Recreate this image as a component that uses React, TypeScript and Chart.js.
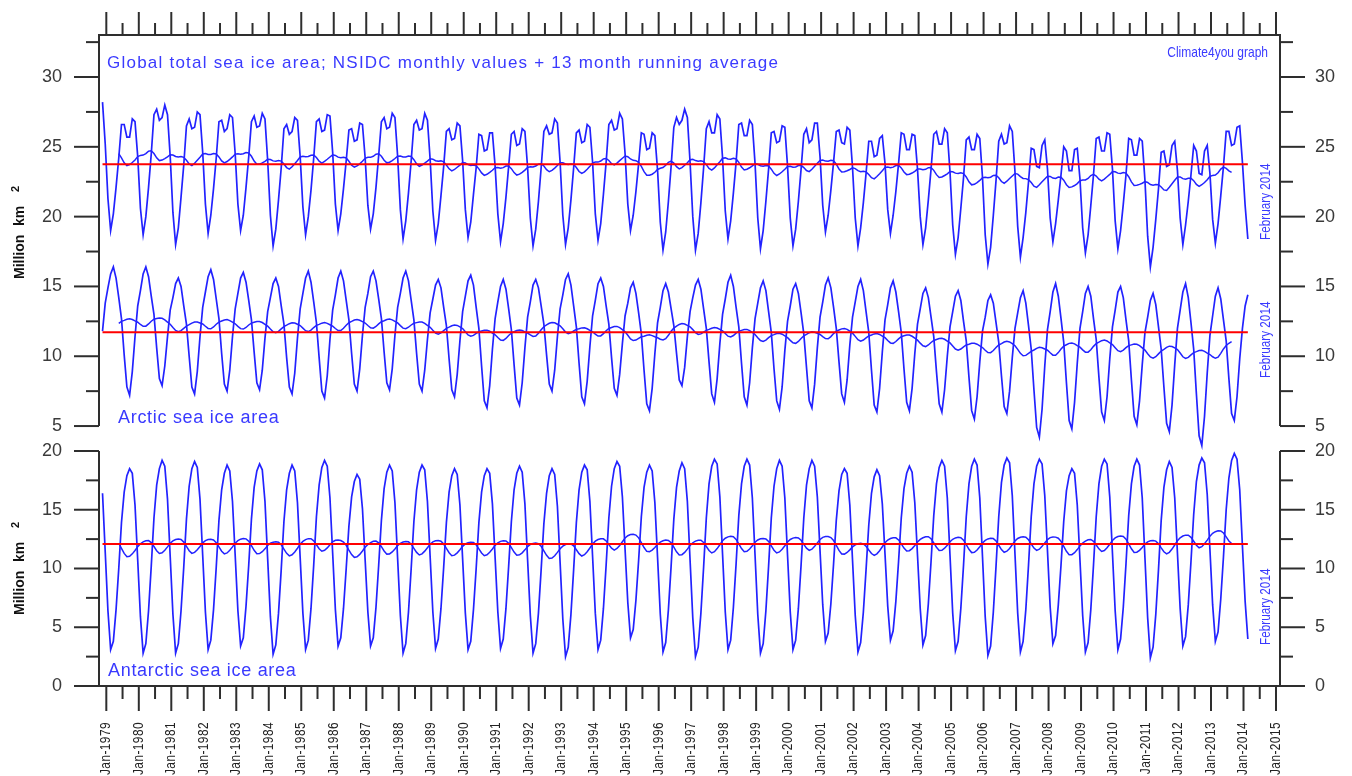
import { useEffect, useRef } from 'react'
import Chart from 'chart.js/auto'

// Monthly series start in November 1978 and end in February 2014
const startYear = 1978
const startMonth = 10 // 0 = January

// Arctic sea ice area, million km2 (one row per year)
const arcticMonthly: number[] = [
  11.8, 13.8,
  14.9, 15.9, 16.4, 15.6, 14.2, 12.7, 10.1, 7.8, 7.2, 8.9, 11.4, 13.6,
  14.7, 15.9, 16.4, 15.7, 14.3, 13.0, 10.6, 8.4, 7.9, 9.3, 11.4, 13.3,
  14.2, 15.2, 15.6, 15.0, 13.6, 12.3, 10.0, 7.8, 7.3, 8.9, 11.4, 13.5,
  14.6, 15.7, 16.2, 15.5, 14.1, 12.7, 10.2, 8.0, 7.5, 9.0, 11.4, 13.4,
  14.5, 15.6, 16.0, 15.3, 14.0, 12.6, 10.3, 8.1, 7.6, 9.0, 11.3, 13.2,
  14.2, 15.2, 15.6, 15.0, 13.6, 12.3, 9.9, 7.8, 7.3, 8.8, 11.3, 13.4,
  14.5, 15.6, 16.1, 15.3, 13.9, 12.4, 9.9, 7.5, 7.0, 8.6, 11.2, 13.3,
  14.4, 15.6, 16.1, 15.4, 14.0, 12.6, 10.2, 8.0, 7.5, 9.1, 11.5, 13.5,
  14.5, 15.7, 16.1, 15.4, 14.1, 12.7, 10.3, 8.1, 7.6, 9.1, 11.5, 13.5,
  14.5, 15.6, 16.1, 15.4, 14.0, 12.6, 10.2, 8.0, 7.5, 9.0, 11.2, 13.1,
  14.1, 15.1, 15.5, 14.9, 13.5, 12.2, 9.8, 7.6, 7.1, 8.7, 11.1, 13.2,
  14.3, 15.4, 15.8, 15.1, 13.5, 12.0, 9.3, 6.8, 6.3, 7.9, 10.5, 12.7,
  13.9, 15.0, 15.5, 14.8, 13.4, 11.9, 9.4, 7.0, 6.5, 8.1, 10.6, 12.8,
  13.9, 15.1, 15.5, 14.9, 13.6, 12.3, 10.1, 8.0, 7.5, 9.0, 11.4, 13.4,
  14.4, 15.5, 15.9, 15.1, 13.6, 12.1, 9.5, 7.1, 6.6, 8.2, 10.7, 12.9,
  14.0, 15.2, 15.6, 15.0, 13.6, 12.3, 9.9, 7.7, 7.2, 8.7, 10.9, 12.9,
  13.8, 14.9, 15.3, 14.5, 13.1, 11.6, 9.0, 6.6, 6.1, 7.7, 10.2, 12.4,
  13.5, 14.7, 15.2, 14.6, 13.4, 12.2, 10.2, 8.3, 7.9, 9.2, 11.4, 13.2,
  14.2, 15.1, 15.5, 14.8, 13.4, 12.0, 9.6, 7.3, 6.7, 8.4, 10.9, 13.0,
  14.1, 15.3, 15.8, 15.0, 13.5, 12.1, 9.5, 7.1, 6.5, 8.1, 10.6, 12.7,
  13.8, 14.9, 15.4, 14.7, 13.2, 11.7, 9.1, 6.8, 6.2, 7.8, 10.4, 12.5,
  13.6, 14.8, 15.2, 14.5, 13.1, 11.6, 9.2, 6.8, 6.3, 8.0, 10.6, 12.8,
  13.9, 15.1, 15.6, 14.9, 13.5, 12.0, 9.6, 7.3, 6.7, 8.3, 10.8, 12.8,
  13.9, 15.0, 15.5, 14.7, 13.2, 11.7, 9.0, 6.5, 6.0, 7.7, 10.3, 12.6,
  13.7, 14.9, 15.4, 14.6, 13.2, 11.7, 9.1, 6.7, 6.1, 7.7, 10.2, 12.3,
  13.4, 14.5, 14.9, 14.2, 12.8, 11.4, 8.9, 6.6, 6.0, 7.6, 10.0, 12.1,
  13.2, 14.3, 14.7, 14.0, 12.5, 11.1, 8.5, 6.1, 5.5, 7.1, 9.6, 11.8,
  12.8, 14.0, 14.4, 13.8, 12.4, 11.0, 8.6, 6.4, 5.9, 7.5, 9.9, 12.0,
  13.1, 14.2, 14.7, 13.8, 12.2, 10.5, 7.6, 4.9, 4.2, 6.2, 9.3, 11.9,
  13.2, 14.6, 15.2, 14.3, 12.7, 11.0, 8.1, 5.4, 4.8, 6.7, 9.5, 12.0,
  13.2, 14.5, 15.0, 14.3, 12.7, 11.2, 8.5, 6.0, 5.4, 7.1, 9.8, 12.1,
  13.3, 14.6, 15.0, 14.2, 12.6, 11.1, 8.3, 5.7, 5.1, 6.8, 9.4, 11.7,
  12.8, 14.0, 14.5, 13.7, 12.1, 10.5, 7.8, 5.2, 4.6, 6.5, 9.4, 12.0,
  13.3, 14.6, 15.2, 14.2, 12.4, 10.5, 7.3, 4.3, 3.6, 5.7, 8.8, 11.5,
  12.9, 14.3, 14.9, 14.1, 12.6, 11.1, 8.4, 5.9, 5.4, 7.1, 9.8, 12.0,
  13.6, 14.4,
]

// Antarctic sea ice area, million km2 (one row per year)
const antarcticMonthly: number[] = [
  16.4, 11.4,
  6.4, 3.1, 3.8, 6.5, 10.0, 13.9, 16.5, 17.9, 18.5, 18.1, 15.4, 10.7,
  5.9, 2.8, 3.6, 6.4, 10.2, 14.3, 17.1, 18.5, 19.2, 18.7, 15.9, 11.0,
  6.1, 2.8, 3.6, 6.4, 10.1, 14.2, 17.0, 18.5, 19.1, 18.6, 15.9, 11.1,
  6.3, 3.1, 3.9, 6.5, 10.1, 14.1, 16.7, 18.1, 18.8, 18.3, 15.7, 11.1,
  6.4, 3.4, 4.1, 6.8, 10.3, 14.2, 16.9, 18.3, 18.9, 18.4, 15.7, 10.8,
  5.9, 2.7, 3.5, 6.2, 9.9, 14.0, 16.7, 18.1, 18.8, 18.3, 15.6, 10.9,
  6.2, 3.1, 3.9, 6.6, 10.3, 14.4, 17.1, 18.6, 19.2, 18.7, 16.0, 11.3,
  6.5, 3.4, 4.1, 6.6, 10.0, 13.6, 16.1, 17.4, 18.0, 17.6, 15.1, 10.7,
  6.3, 3.4, 4.1, 6.7, 10.3, 14.1, 16.8, 18.2, 18.8, 18.3, 15.6, 10.8,
  6.0, 2.8, 3.6, 6.3, 10.0, 14.0, 16.7, 18.2, 18.8, 18.4, 15.7, 11.0,
  6.3, 3.2, 4.0, 6.6, 10.1, 13.9, 16.5, 17.9, 18.5, 18.0, 15.4, 10.8,
  6.2, 3.1, 3.8, 6.5, 10.0, 13.9, 16.5, 17.9, 18.5, 18.1, 15.5, 10.9,
  6.3, 3.2, 4.0, 6.6, 10.2, 14.0, 16.7, 18.1, 18.7, 18.2, 15.5, 10.7,
  6.0, 2.8, 3.6, 6.2, 9.9, 13.8, 16.4, 17.9, 18.5, 18.0, 15.3, 10.5,
  5.7, 2.5, 3.3, 6.1, 9.9, 13.9, 16.7, 18.2, 18.8, 18.4, 15.7, 11.0,
  6.2, 3.1, 3.9, 6.6, 10.3, 14.3, 17.0, 18.5, 19.1, 18.7, 16.1, 11.6,
  7.1, 4.1, 4.8, 7.3, 10.7, 14.4, 16.9, 18.2, 18.8, 18.3, 15.6, 10.9,
  6.1, 2.9, 3.7, 6.5, 10.2, 14.2, 16.9, 18.3, 19.0, 18.5, 15.7, 10.7,
  5.8, 2.5, 3.3, 6.2, 10.1, 14.3, 17.2, 18.7, 19.3, 18.9, 16.1, 11.2,
  6.3, 3.1, 3.9, 6.7, 10.4, 14.5, 17.2, 18.7, 19.3, 18.8, 16.0, 11.1,
  6.1, 2.8, 3.6, 6.4, 10.2, 14.3, 17.0, 18.5, 19.2, 18.7, 16.0, 11.1,
  6.3, 3.1, 3.9, 6.6, 10.3, 14.3, 17.1, 18.5, 19.2, 18.7, 16.1, 11.5,
  6.9, 3.8, 4.5, 7.0, 10.4, 14.1, 16.6, 18.0, 18.5, 18.1, 15.4, 10.7,
  6.0, 2.9, 3.7, 6.3, 9.9, 13.7, 16.4, 17.8, 18.4, 17.9, 15.5, 11.2,
  6.8, 3.9, 4.7, 7.2, 10.6, 14.3, 16.8, 18.1, 18.7, 18.2, 15.6, 11.1,
  6.6, 3.5, 4.3, 7.0, 10.6, 14.5, 17.2, 18.6, 19.2, 18.7, 16.0, 11.1,
  6.2, 3.0, 3.8, 6.6, 10.3, 14.4, 17.2, 18.7, 19.3, 18.8, 16.0, 11.0,
  5.9, 2.6, 3.4, 6.3, 10.2, 14.4, 17.3, 18.8, 19.4, 19.0, 16.2, 11.2,
  6.2, 2.9, 3.8, 6.5, 10.3, 14.4, 17.2, 18.7, 19.3, 18.9, 16.2, 11.5,
  6.7, 3.6, 4.3, 6.9, 10.3, 14.0, 16.6, 17.9, 18.5, 18.1, 15.4, 10.7,
  6.0, 2.9, 3.7, 6.5, 10.3, 14.4, 17.2, 18.7, 19.3, 18.9, 16.1, 11.3,
  6.4, 3.1, 4.0, 6.7, 10.4, 14.5, 17.2, 18.7, 19.3, 18.8, 16.0, 10.9,
  5.8, 2.4, 3.3, 6.1, 9.9, 14.1, 16.9, 18.4, 19.1, 18.6, 16.0, 11.3,
  6.6, 3.4, 4.2, 6.9, 10.6, 14.6, 17.4, 18.8, 19.4, 19.0, 16.3, 11.6,
  6.9, 3.8, 4.6, 7.4, 11.0, 15.0, 17.7, 19.2, 19.8, 19.3, 16.7, 11.9,
  7.2, 4.0,
]

// long-term reference levels (red lines)
const globalReference = 23.75
const arcticReference = 11.71
const antarcticReference = 12.09

// axis ticks
const upperTickLabels = [5, 10, 15, 20, 25, 30]
const upperMinorTicks = [7.5, 12.5, 17.5, 22.5, 27.5, 32.5]
const lowerTickLabels = [0, 5, 10, 15, 20]
const lowerMinorTicks = [2.5, 7.5, 12.5, 17.5]
const firstYearTick = 1979
const lastYearTick = 2015
const runningSpan = 13

const titleText = 'Global total sea ice area; NSIDC monthly values + 13 month running average'
const creditText = 'Climate4you graph'
const arcticText = 'Arctic sea ice area'
const antarcticText = 'Antarctic sea ice area'
const lastMonthText = 'February 2014'

const lineBlue = '#2222ff'
const textBlue = '#3a3aff'
const frameColor = '#2e2e2e'
const sansFont = '"Liberation Sans", Arial, sans-serif'

const monthX = (i: number) => startYear + (startMonth + i + 0.6) / 12

function runningMean(values: number[], span: number) {
  const half = Math.floor(span / 2)
  const points: { x: number; y: number }[] = []
  for (let i = half; i < values.length - half; i++) {
    let sum = 0
    for (let k = i - half; k <= i + half; k++) sum += values[k]
    points.push({ x: monthX(i), y: sum / span })
  }
  return points
}

interface TextOpts {
  font: string
  color: string
  align?: CanvasTextAlign
  baseline?: CanvasTextBaseline
  rotate?: number
  scaleX?: number
  spacing?: number
}

function drawText(ctx: CanvasRenderingContext2D, text: string, x: number, y: number, o: TextOpts) {
  ctx.save()
  ctx.translate(x, y)
  if (o.rotate) ctx.rotate(o.rotate)
  if (o.scaleX) ctx.scale(o.scaleX, 1)
  ctx.font = o.font
  ctx.fillStyle = o.color
  ctx.textAlign = o.align ?? 'left'
  ctx.textBaseline = o.baseline ?? 'alphabetic'
  ;(ctx as any).letterSpacing = `${o.spacing ?? 0}px`
  ctx.fillText(text, 0, 0)
  ;(ctx as any).letterSpacing = '0px'
  ctx.restore()
}

const decorations = {
  id: 'decorations',
  afterDraw(chart: Chart) {
    const { ctx, chartArea: a, scales } = chart
    const xs = scales.x
    const yU = scales.yUpper
    const yL = scales.yLower
    const upperEnd = yU.getPixelForValue(5)
    const lowerStart = yL.getPixelForValue(20)
    const up = -Math.PI / 2

    ctx.save()
    ctx.strokeStyle = frameColor
    ctx.lineWidth = 2
    const seg = (x1: number, y1: number, x2: number, y2: number) => {
      ctx.beginPath()
      ctx.moveTo(x1, y1)
      ctx.lineTo(x2, y2)
      ctx.stroke()
    }

    // frame, with a gap between the two panels on both sides
    seg(a.left - 1, a.top, a.right + 1, a.top)
    seg(a.left - 1, a.bottom, a.right + 1, a.bottom)
    seg(a.left, a.top, a.left, upperEnd)
    seg(a.left, lowerStart, a.left, a.bottom)
    seg(a.right, a.top, a.right, upperEnd)
    seg(a.right, lowerStart, a.right, a.bottom)

    const yTick = (py: number, len: number) => {
      seg(a.left - len, py, a.left, py)
      seg(a.right, py, a.right + len, py)
    }
    upperTickLabels.forEach((v) => yTick(yU.getPixelForValue(v), 25))
    upperMinorTicks.forEach((v) => yTick(yU.getPixelForValue(v), 13))
    lowerTickLabels.forEach((v) => yTick(yL.getPixelForValue(v), 25))
    lowerMinorTicks.forEach((v) => yTick(yL.getPixelForValue(v), 13))

    for (let yr = firstYearTick; yr <= lastYearTick; yr++) {
      const px = xs.getPixelForValue(yr)
      seg(px, a.bottom, px, a.bottom + 25)
      seg(px, a.top, px, a.top - 23)
      if (yr < lastYearTick) {
        const mx = xs.getPixelForValue(yr + 0.5)
        seg(mx, a.bottom, mx, a.bottom + 13)
        seg(mx, a.top, mx, a.top - 12)
      }
    }

    // y tick labels, both sides
    const labelFont = `18px ${sansFont}`
    const yLabel = (v: number, py: number) => {
      drawText(ctx, String(v), a.left - 37, py, { font: labelFont, color: '#3a3a3a', align: 'right', baseline: 'middle' })
      drawText(ctx, String(v), a.right + 35, py, { font: labelFont, color: '#3a3a3a', align: 'left', baseline: 'middle' })
    }
    upperTickLabels.forEach((v) => yLabel(v, yU.getPixelForValue(v)))
    lowerTickLabels.forEach((v) => yLabel(v, yL.getPixelForValue(v)))

    // x tick labels
    for (let yr = firstYearTick; yr <= lastYearTick; yr++) {
      drawText(ctx, `Jan-${yr}`, xs.getPixelForValue(yr), a.bottom + 36, {
        font: `14px ${sansFont}`, color: '#222', align: 'right', baseline: 'middle', rotate: up, scaleX: 0.85, spacing: 0.5,
      })
    }

    // unit labels
    const unitLabel = (startY: number) => {
      const bold = `bold 14px ${sansFont}`
      drawText(ctx, 'Million', 23.5, startY, { font: bold, color: '#111', rotate: up })
      drawText(ctx, 'km', 23.5, startY - 53, { font: bold, color: '#111', rotate: up })
      drawText(ctx, '2', 18.5, startY - 87, { font: `bold 11px ${sansFont}`, color: '#111', rotate: up })
    }
    unitLabel(279)
    unitLabel(615)

    // title with stretched letter spacing
    ctx.font = `17px ${sansFont}`
    ;(ctx as any).letterSpacing = '0px'
    const plain = ctx.measureText(titleText).width
    const spacing = (671 - plain) / (titleText.length - 1)
    drawText(ctx, titleText, 107, 68, { font: `17px ${sansFont}`, color: textBlue, spacing })

    drawText(ctx, creditText, 1268, 57, { font: `15px ${sansFont}`, color: textBlue, align: 'right', scaleX: 0.8 })
    drawText(ctx, arcticText, 118, 423, { font: `18px ${sansFont}`, color: textBlue, spacing: 0.7 })
    drawText(ctx, antarcticText, 108, 676, { font: `18px ${sansFont}`, color: textBlue, spacing: 0.7 })

    const endLabel = (startY: number) =>
      drawText(ctx, lastMonthText, 1270, startY, { font: `14px ${sansFont}`, color: textBlue, rotate: up, scaleX: 0.84 })
    endLabel(240)
    endLabel(378)
    endLabel(645)

    ctx.restore()
  },
}

export default function App() {
  const canvasRef = useRef<HTMLCanvasElement>(null)

  useEffect(() => {
    if (!canvasRef.current) return

    const globalMonthly = arcticMonthly.map((v, i) => v + antarcticMonthly[i])
    const monthly = (vals: number[]) => vals.map((y, i) => ({ x: monthX(i), y }))
    const lastIndex = arcticMonthly.length - 1

    const blue = (data: any[], yAxisID: string, width: number, order: number) => ({
      data, yAxisID, borderColor: lineBlue, borderWidth: width, pointRadius: 0, tension: 0, fill: false, order,
    })
    const red = (y: number, yAxisID: string) => ({
      data: [{ x: monthX(0), y }, { x: monthX(lastIndex), y }],
      yAxisID, borderColor: '#ff0000', borderWidth: 2, pointRadius: 0, fill: false, order: 0,
    })

    const chart = new Chart(canvasRef.current, {
      type: 'line',
      data: {
        datasets: [
          blue(monthly(globalMonthly), 'yUpper', 1.7, 2),
          blue(runningMean(globalMonthly, runningSpan), 'yUpper', 1.5, 1),
          red(globalReference, 'yUpper'),
          blue(monthly(arcticMonthly), 'yUpper', 1.7, 2),
          blue(runningMean(arcticMonthly, runningSpan), 'yUpper', 1.5, 1),
          red(arcticReference, 'yUpper'),
          blue(monthly(antarcticMonthly), 'yLower', 1.7, 2),
          blue(runningMean(antarcticMonthly, runningSpan), 'yLower', 1.5, 1),
          red(antarcticReference, 'yLower'),
        ] as any,
      },
      options: {
        responsive: true,
        maintainAspectRatio: false,
        animation: false,
        events: [],
        layout: { padding: { left: 99, right: 72, top: 35, bottom: 90 } },
        plugins: { legend: { display: false }, tooltip: { enabled: false } },
        scales: {
          x: { type: 'linear', min: 1978.775, max: 2015.123, display: false },
          yUpper: { type: 'linear', axis: 'y', min: -13.62, max: 33.01, display: false },
          yLower: { type: 'linear', axis: 'y', min: 0, max: 55.4, display: false },
        },
      },
      plugins: [decorations],
    })

    return () => chart.destroy()
  }, [])

  return (
    <div style={{ position: 'absolute', left: 0, top: 0, width: 1352, height: 776, background: '#fff' }}>
      <canvas ref={canvasRef}></canvas>
    </div>
  )
}
